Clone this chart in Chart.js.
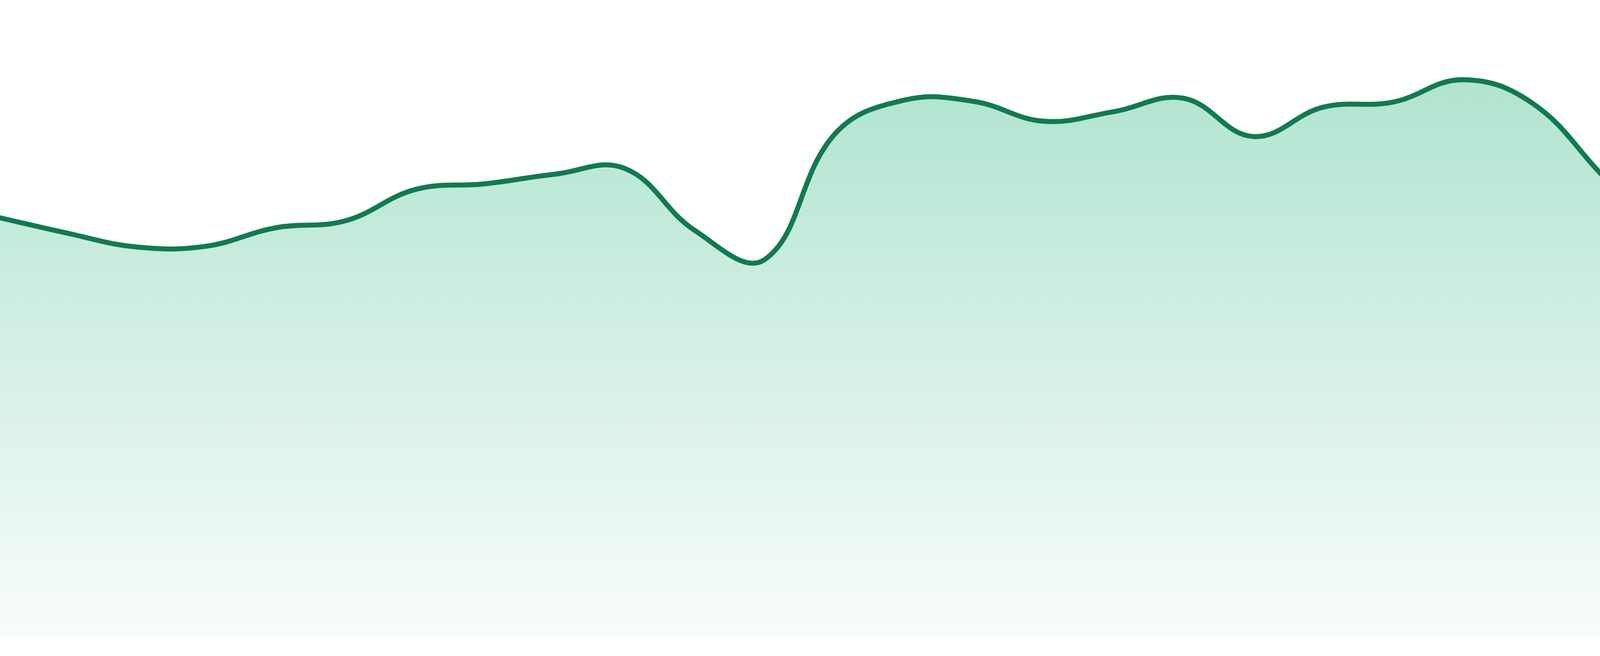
<!DOCTYPE html>
<html>
<head>
<meta charset="utf-8">
<script src="https://cdn.jsdelivr.net/npm/chart.js@4.4.1/dist/chart.umd.min.js"></script>
<style>
  html, body { margin: 0; padding: 0; background: #ffffff; width: 100%; height: 100%; overflow: hidden; }
  #wrap { width: 100vw; height: 100vh; position: relative; }
</style>
</head>
<body>
<div id="wrap"><canvas id="c"></canvas></div>
<script>
// Data
const pointIndex = [0,1,2,3,4,5,6,7,8,9,10,11,12,13,14,15,16,17,18,19,20,21,22,23];
const values = [66.0,63.5,61.3,61.4,64.3,65.4,70.3,71.2,72.7,73.6,63.9,59.3,78.9,84.3,84.1,81.0,82.5,84.6,78.6,83.2,84.0,87.5,83.8,72.5];
const yRange = [0, 100];
const xRange = [0.0525, 22.965];

const lineColor = '#107b51';

const wrap = document.getElementById('wrap');
const W = wrap.clientWidth || 4800;
const H = wrap.clientHeight || 1680;
const k = W / 4800;

const ctx = document.getElementById('c').getContext('2d');
new Chart(ctx, {
  type: 'line',
  data: {
    datasets: [{
      data: values.map((v, i) => ({ x: pointIndex[i], y: v })),
      borderColor: lineColor,
      borderWidth: 15 * k,
      borderCapStyle: 'butt',
      tension: 0.4,
      pointRadius: 0,
      pointHoverRadius: 0,
      fill: 'start',
      clip: false,
      backgroundColor: (context) => {
        const chart = context.chart;
        const area = chart.chartArea;
        if (!area) return 'rgba(16,185,129,0.3)';
        const g = chart.ctx.createLinearGradient(0, area.top, 0, area.bottom);
        g.addColorStop(0, 'rgb(166,225,202)');
        g.addColorStop(1, 'rgb(249,252,251)');
        return g;
      }
    }]
  },
  options: {
    responsive: true,
    maintainAspectRatio: false,
    animation: false,
    layout: { autoPadding: false, padding: { left: 0, right: 0, top: 0, bottom: 46 * H / 1680 } },
    plugins: { legend: { display: false }, tooltip: { enabled: false } },
    scales: {
      x: { type: 'linear', display: false, min: xRange[0], max: xRange[1] },
      y: { display: false, min: yRange[0], max: yRange[1] }
    }
  }
});
</script>
</body>
</html>
